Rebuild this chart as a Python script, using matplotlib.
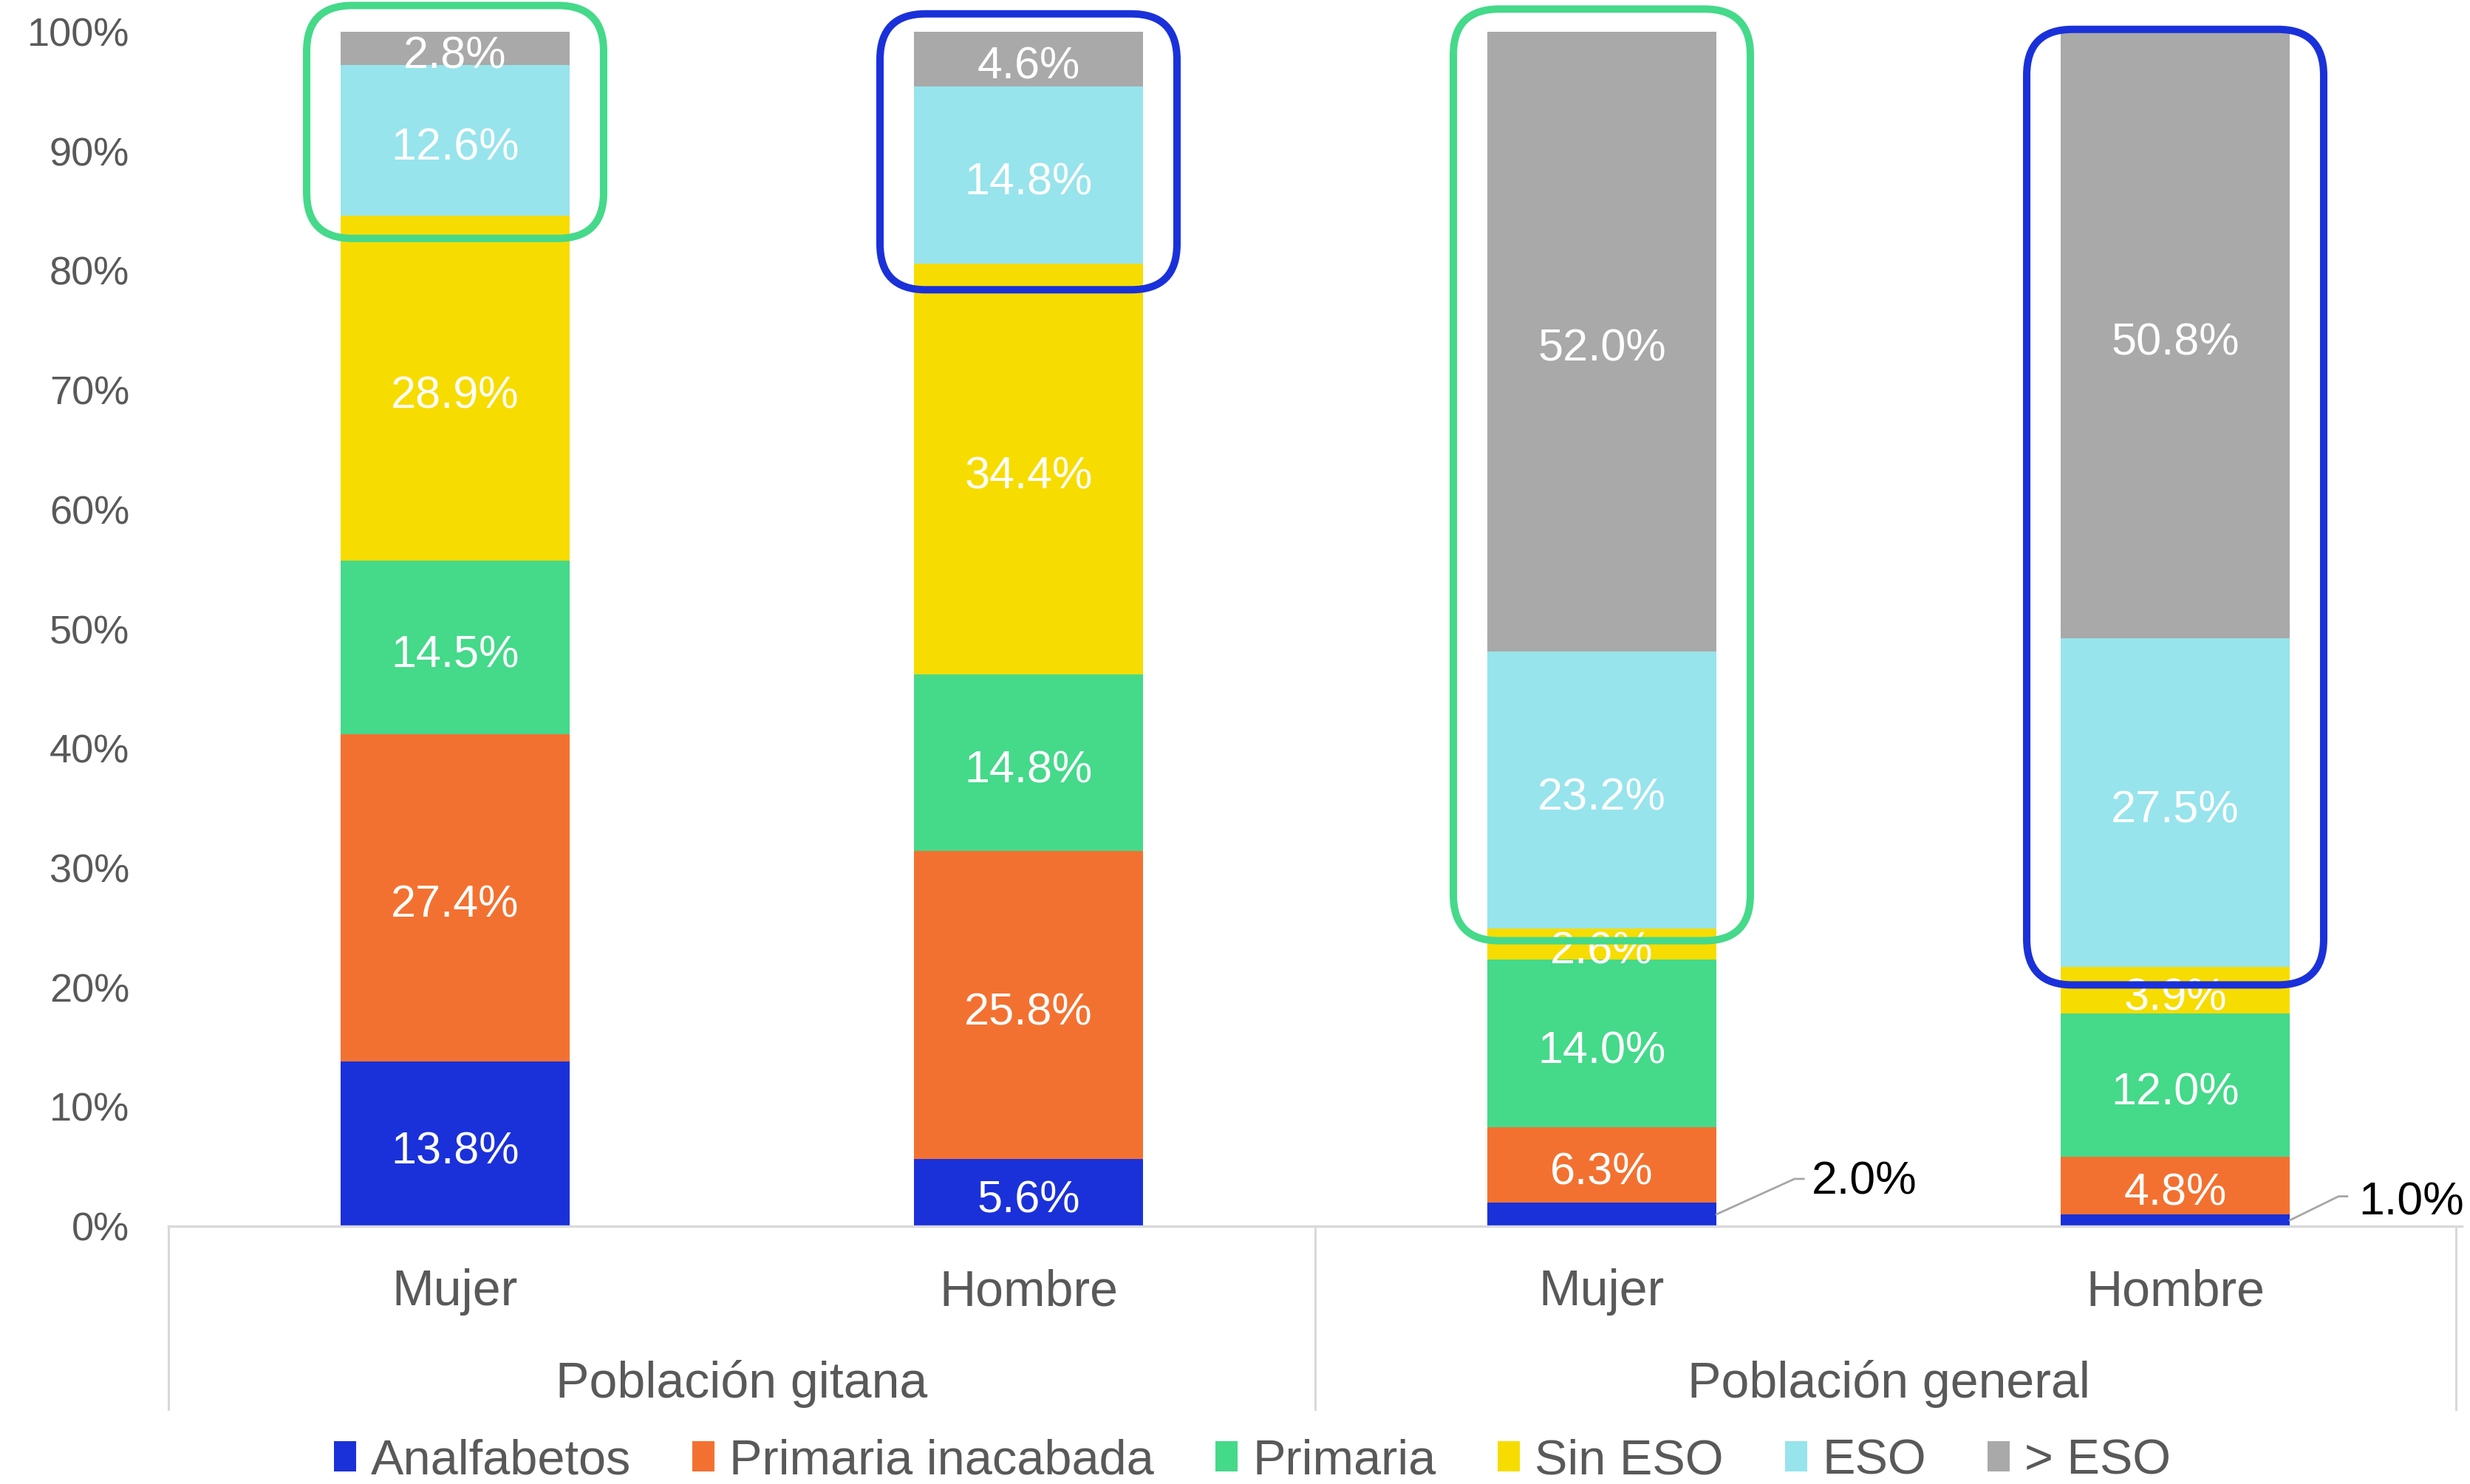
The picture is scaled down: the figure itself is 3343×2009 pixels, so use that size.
import matplotlib
matplotlib.use("Agg")
import matplotlib.pyplot as plt
import matplotlib.transforms as mtransforms
from matplotlib.patches import FancyBboxPatch, Patch
from matplotlib.lines import Line2D

plt.rcParams['font.family'] = ['Liberation Sans', 'DejaVu Sans']

# ---------------- data ----------------
categories = ["Mujer", "Hombre", "Mujer", "Hombre"]
groups = ["Población gitana", "Población general"]
series_names = ["Analfabetos", "Primaria inacabada", "Primaria", "Sin ESO", "ESO", "> ESO"]
analfabetos = [13.8, 5.6, 2.0, 1.0]
primaria_inacabada = [27.4, 25.8, 6.3, 4.8]
primaria = [14.5, 14.8, 14.0, 12.0]
sin_eso = [28.9, 34.4, 2.6, 3.9]
eso = [12.6, 14.8, 23.2, 27.5]
mas_eso = [2.8, 4.6, 52.0, 50.8]
yticks = [0, 10, 20, 30, 40, 50, 60, 70, 80, 90, 100]

series = [analfabetos, primaria_inacabada, primaria, sin_eso, eso, mas_eso]

# ---------------- styles ----------------
colors = ["#1a31d9", "#f37130", "#45d98a", "#f7dc00", "#97e4ec", "#a9a9a9"]
box_green = "#45d98a"
box_blue = "#1a31d9"
grey_text = "#595959"
axis_grey = "#d9d9d9"

W, H = 3343, 2009
fig = plt.figure(figsize=(W / 100, H / 100), dpi=100)
ax = fig.add_axes([228 / W, 349 / H, 3104 / W, 1617 / H])
ax.set_xlim(-0.5, 3.5)
ax.set_ylim(0, 100)
for s in ax.spines.values():
    s.set_visible(False)

label_tr = mtransforms.offset_copy(ax.transData, fig=fig, y=-8, units="points")

x = list(range(len(categories)))
bar_w = 0.4
bottoms = [0.0] * len(x)
for si, vals in enumerate(series):
    ax.bar(x, vals, bar_w, bottom=bottoms, color=colors[si], zorder=2, linewidth=0)
    for i, v in enumerate(vals):
        yc = bottoms[i] + v / 2
        if si == 0 and i >= 2:
            continue
        ax.text(i, yc, f"{v:.1f}%", ha="center", va="center", color="white",
                fontsize=44, zorder=3, transform=label_tr)
    bottoms = [b + v for b, v in zip(bottoms, vals)]

# outside labels with leader lines for small Analfabetos values
leaders = {2: dict(elbow=(0.336, 3.96), end=0.352, lab=(0.366, 3.7)),
           3: dict(elbow=(0.285, 2.5), end=0.30, lab=(0.32, 2.0))}
for i, spec in leaders.items():
    v = analfabetos[i]
    ex, ey = spec["elbow"]
    ax.plot([i + bar_w / 2, i + ex, i + spec["end"]], [v / 2, ey, ey],
            color="#a6a6a6", lw=2.0, zorder=3, clip_on=False)
    lx, ly = spec["lab"]
    ax.text(i + lx, ly, f"{v:.1f}%", ha="left", va="center", color="black",
            fontsize=45, zorder=3)

# y axis
ax.set_yticks(yticks)
ax.set_yticklabels([f"{t}%" for t in yticks], fontsize=39, color=grey_text)
ax.tick_params(axis="y", length=0, pad=38)
ax.set_xticks([])

# baseline + multi-level category axis
ax.axhline(0, color=axis_grey, lw=2.4, zorder=4, clip_on=False)
bt = mtransforms.blended_transform_factory(ax.transData, ax.transAxes)
for xs in [-0.5, 1.5, 3.49]:
    ax.add_line(Line2D([xs, xs], [0, -248 / 1617], transform=bt, color=axis_grey,
                       lw=2.2, clip_on=False))
for i, c in enumerate(categories):
    ax.text(i, -107 / 1617, c, transform=bt, ha="center", va="baseline",
            fontsize=49, color=grey_text)
for gi, g in enumerate(groups):
    ax.text(gi * 2 + 0.5, -232 / 1617, g, transform=bt, ha="center", va="baseline",
            fontsize=49, color=grey_text)

# highlight boxes (annotation shapes)
fig.canvas.draw()
p0 = ax.transData.transform((0, 0))
p1 = ax.transData.transform((1, 1))
px_per_x = p1[0] - p0[0]
px_per_y = p1[1] - p0[1]
aspect = px_per_x / px_per_y
radius_px = 62
boxes = [(0, 82.7, 102.2, box_green), (1, 78.4, 101.5, box_blue),
         (2, 23.9, 101.9, box_green), (3, 20.2, 100.2, box_blue)]
half_w = 0.259
for i, y0, y1, col in boxes:
    patch = FancyBboxPatch((i - half_w, y0), 2 * half_w, y1 - y0,
                           boxstyle=f"round,pad=0,rounding_size={radius_px / px_per_x}",
                           mutation_aspect=aspect, fill=False, edgecolor=col,
                           lw=7.2, zorder=5, clip_on=False)
    ax.add_patch(patch)

# legend
handles = [Patch(facecolor=c, edgecolor="none") for c in colors]
fig.legend(handles, series_names, loc="center", bbox_to_anchor=(1695 / W, 1 - 1978 / H),
           ncol=6, frameon=False, fontsize=48, handlelength=0.45, handleheight=0.55,
           handletextpad=0.3, columnspacing=1.25, labelcolor=grey_text,
           borderpad=0, borderaxespad=0)

fig.savefig("out.png", dpi=100, facecolor="white")
